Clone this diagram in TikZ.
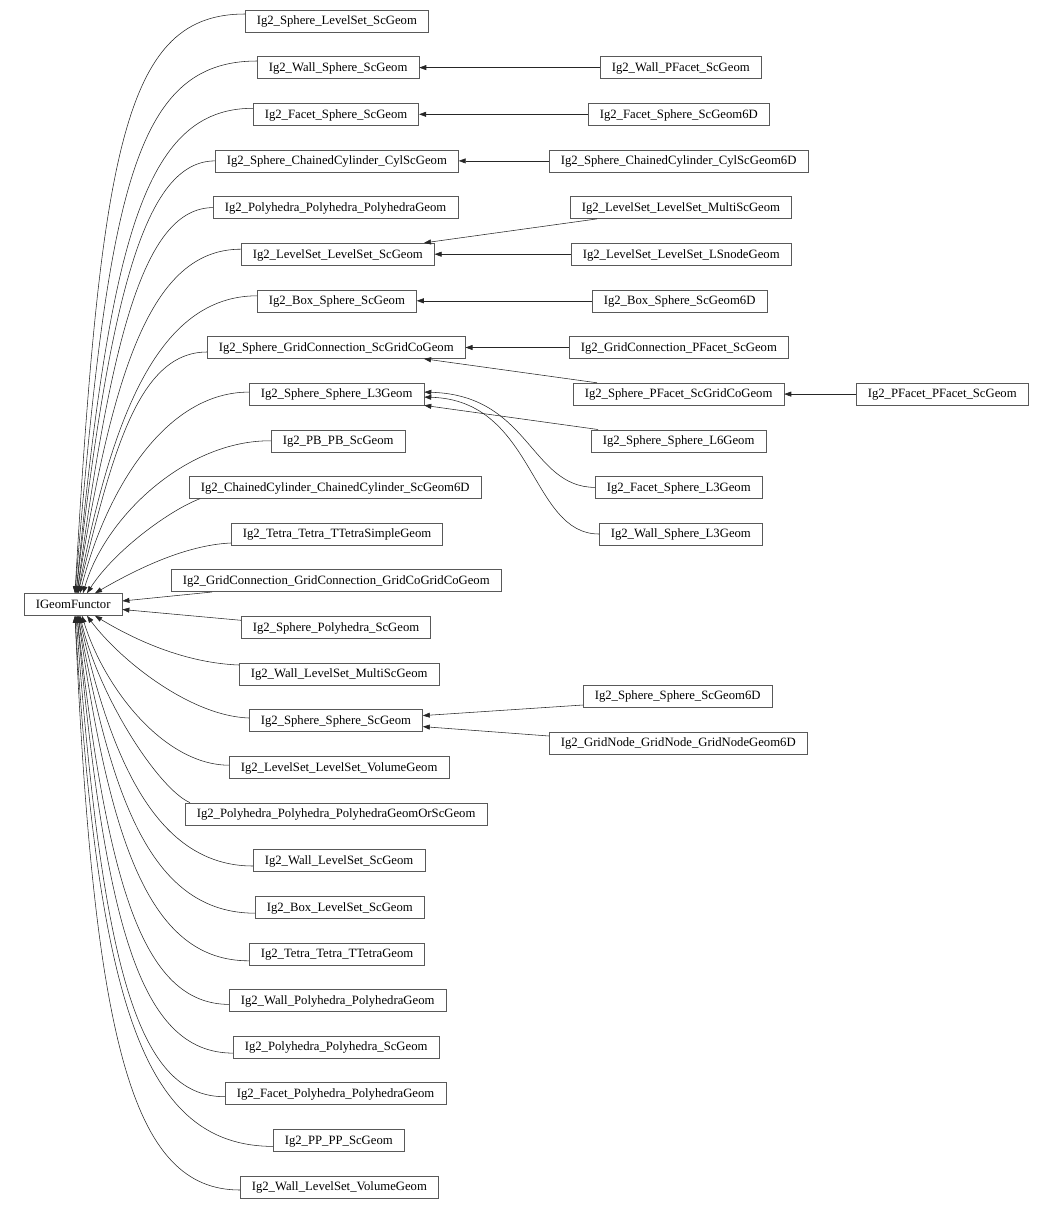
\documentclass[tikz,border=0pt]{standalone}
\usepackage{fontspec}
\setmainfont{Liberation Serif}
\usetikzlibrary{arrows.meta}
\begin{document}
\begin{tikzpicture}[x=1pt,y=-1pt,
  box/.style={draw=black!65, line width=0.6pt, fill=white, inner xsep=11.5pt, inner ysep=0pt,
    text height=9.6pt, text depth=2pt, minimum height=22pt, anchor=west,
    font=\fontsize{12.7}{14}\selectfont},
  edge/.style={draw=black!85, line width=0.55pt, -{Triangle[length=7pt,width=5pt]}}]
\useasboundingbox (0,0) rectangle (1052,1210);
% base
\node[box] (igf) at (24,604.5) {IGeomFunctor};
% left column
\node[box] (n1) at (245,21) {Ig2\_Sphere\_LevelSet\_ScGeom};
\node[box] (n2) at (257,67.6) {Ig2\_Wall\_Sphere\_ScGeom};
\node[box] (n3) at (253,114.3) {Ig2\_Facet\_Sphere\_ScGeom};
\node[box] (n4) at (215,160.9) {Ig2\_Sphere\_ChainedCylinder\_CylScGeom};
\node[box] (n5) at (213,207.6) {Ig2\_Polyhedra\_Polyhedra\_PolyhedraGeom};
\node[box] (n6) at (241,254.2) {Ig2\_LevelSet\_LevelSet\_ScGeom};
\node[box] (n7) at (257,300.8) {Ig2\_Box\_Sphere\_ScGeom};
\node[box] (n8) at (207,347.5) {Ig2\_Sphere\_GridConnection\_ScGridCoGeom};
\node[box] (n9) at (249,394.1) {Ig2\_Sphere\_Sphere\_L3Geom};
\node[box] (n10) at (271,440.8) {Ig2\_PB\_PB\_ScGeom};
\node[box] (n11) at (189,487.4) {Ig2\_ChainedCylinder\_ChainedCylinder\_ScGeom6D};
\node[box] (n12) at (231,534) {Ig2\_Tetra\_Tetra\_TTetraSimpleGeom};
\node[box] (n13) at (171,580.7) {Ig2\_GridConnection\_GridConnection\_GridCoGridCoGeom};
\node[box] (n14) at (241,627.3) {Ig2\_Sphere\_Polyhedra\_ScGeom};
\node[box] (n15) at (239,674) {Ig2\_Wall\_LevelSet\_MultiScGeom};
\node[box] (n16) at (249,720.6) {Ig2\_Sphere\_Sphere\_ScGeom};
\node[box] (n17) at (229,767.2) {Ig2\_LevelSet\_LevelSet\_VolumeGeom};
\node[box] (n18) at (185,813.9) {Ig2\_Polyhedra\_Polyhedra\_PolyhedraGeomOrScGeom};
\node[box] (n19) at (253,860.5) {Ig2\_Wall\_LevelSet\_ScGeom};
\node[box] (n20) at (255,907.2) {Ig2\_Box\_LevelSet\_ScGeom};
\node[box] (n21) at (249,953.8) {Ig2\_Tetra\_Tetra\_TTetraGeom};
\node[box] (n22) at (229,1000.4) {Ig2\_Wall\_Polyhedra\_PolyhedraGeom};
\node[box] (n23) at (233,1047.1) {Ig2\_Polyhedra\_Polyhedra\_ScGeom};
\node[box] (n24) at (225,1093.7) {Ig2\_Facet\_Polyhedra\_PolyhedraGeom};
\node[box] (n25) at (273,1140.4) {Ig2\_PP\_PP\_ScGeom};
\node[box] (n26) at (240,1187) {Ig2\_Wall\_LevelSet\_VolumeGeom};
% right column
\node[box] (r1) at (600,67.6) {Ig2\_Wall\_PFacet\_ScGeom};
\node[box] (r2) at (588,114.3) {Ig2\_Facet\_Sphere\_ScGeom6D};
\node[box] (r3) at (549,160.9) {Ig2\_Sphere\_ChainedCylinder\_CylScGeom6D};
\node[box] (r4) at (570,207.6) {Ig2\_LevelSet\_LevelSet\_MultiScGeom};
\node[box] (r5) at (571,254.2) {Ig2\_LevelSet\_LevelSet\_LSnodeGeom};
\node[box] (r6) at (592,300.8) {Ig2\_Box\_Sphere\_ScGeom6D};
\node[box] (r7) at (569,347.5) {Ig2\_GridConnection\_PFacet\_ScGeom};
\node[box] (r8) at (573,394.1) {Ig2\_Sphere\_PFacet\_ScGridCoGeom};
\node[box] (r9) at (856,394.1) {Ig2\_PFacet\_PFacet\_ScGeom};
\node[box] (r10) at (591,440.8) {Ig2\_Sphere\_Sphere\_L6Geom};
\node[box] (r11) at (595,487.4) {Ig2\_Facet\_Sphere\_L3Geom};
\node[box] (r12) at (599,534) {Ig2\_Wall\_Sphere\_L3Geom};
\node[box] (r13) at (583,696) {Ig2\_Sphere\_Sphere\_ScGeom6D};
\node[box] (r14) at (549,743) {Ig2\_GridNode\_GridNode\_GridNodeGeom6D};
% right-hand edges
\draw[edge] (r1.west) -- (n2.east);
\draw[edge] (r2.west) -- (n3.east);
\draw[edge] (r3.west) -- (n4.east);
\draw[edge] ([xshift=27pt]r4.south west) -- ([xshift=183pt]n6.north west);
\draw[edge] (r5.west) -- (n6.east);
\draw[edge] (r6.west) -- (n7.east);
\draw[edge] (r7.west) -- (n8.east);
\draw[edge] ([xshift=24pt]r8.north west) -- ([xshift=217pt]n8.south west);
\draw[edge] (r9.west) -- (r8.east);
\draw[edge] ([xshift=7pt]r10.north west) -- (n9.south east);
\draw[edge] (r11.west) .. controls (530,487) and (530,395) .. ([yshift=2pt]n9.east);
\draw[edge] (r12.west) .. controls (530,534) and (535,400) .. ([yshift=-3pt]n9.east);
\draw[edge] ([yshift=-9pt]r13.west) -- ([yshift=5pt]n16.east);
\draw[edge] ([yshift=7pt]r14.west) -- ([yshift=-6pt]n16.east);
% edges to IGeomFunctor (top)
\draw[edge] ([yshift=7pt]n1.west) .. controls (126,14) and (101,142) .. ([xshift=51pt]igf.north west);
\draw[edge] ([yshift=6.6pt]n2.west) .. controls (133,61) and (108,194) .. ([xshift=51pt]igf.north west);
\draw[edge] ([yshift=6pt]n3.west) .. controls (143,108) and (110,244) .. ([xshift=52pt]igf.north west);
\draw[edge] (n4.west) .. controls (145,161) and (110,294) .. ([xshift=52pt]igf.north west);
\draw[edge] (n5.west) .. controls (145,208) and (112,332) .. ([xshift=53pt]igf.north west);
\draw[edge] ([yshift=5pt]n6.west) .. controls (151,249) and (113,370) .. ([xshift=53pt]igf.north west);
\draw[edge] ([yshift=5pt]n7.west) .. controls (159,296) and (112,415) .. ([xshift=54pt]igf.north west);
\draw[edge] ([yshift=-4.5pt]n8.west) .. controls (136,352) and (111,461) .. ([xshift=54pt]igf.north west);
\draw[edge] ([yshift=2pt]n9.west) .. controls (164,392) and (105,493) .. ([xshift=56pt]igf.north west);
\draw[edge] (n10.west) .. controls (186,440) and (105,517) .. ([xshift=59pt]igf.north west);
\draw[edge] ([xshift=11pt]n11.south west) .. controls (170,510) and (115,550) .. ([xshift=63pt]igf.north west);
\draw[edge] ([yshift=-9pt]n12.west) .. controls (185,545) and (135,570) .. ([xshift=71pt]igf.north west);
\draw[edge] ([xshift=41pt]n13.south west) -- ([yshift=3.5pt]igf.east);
\draw[edge] ([yshift=7pt]n14.west) -- ([yshift=-5pt]igf.east);
% edges to IGeomFunctor (bottom)
\draw[edge] ([yshift=9pt]n15.west) .. controls (185,663) and (135,640) .. ([xshift=71pt]igf.south west);
\draw[edge] ([yshift=2.6pt]n16.west) .. controls (190,716) and (120,660) .. ([xshift=63pt]igf.south west);
\draw[edge] ([yshift=2pt]n17.west) .. controls (165,765) and (105,690) .. ([xshift=58pt]igf.south west);
\draw[edge] ([xshift=5pt]n18.north west) .. controls (160,790) and (100,700) .. ([xshift=56pt]igf.south west);
\draw[edge] ([yshift=-5.5pt]n19.west) .. controls (157,866) and (111,761) .. ([xshift=55pt]igf.south west);
\draw[edge] ([yshift=-6pt]n20.west) .. controls (152,913) and (112,801) .. ([xshift=54pt]igf.south west);
\draw[edge] ([yshift=-7pt]n21.west) .. controls (150,961) and (110,844) .. ([xshift=54pt]igf.south west);
\draw[edge] ([yshift=-4pt]n22.west) .. controls (141,1004) and (107,880) .. ([xshift=53pt]igf.south west);
\draw[edge] ([yshift=-6pt]n23.west) .. controls (139,1053) and (105,922) .. ([xshift=53pt]igf.south west);
\draw[edge] ([yshift=-3pt]n24.west) .. controls (136,1097) and (102,963) .. ([xshift=52pt]igf.south west);
\draw[edge] ([yshift=-6pt]n25.west) .. controls (144,1146) and (98,1006) .. ([xshift=51pt]igf.south west);
\draw[edge] ([yshift=-3pt]n26.west) .. controls (133,1190) and (94,1047) .. ([xshift=51pt]igf.south west);
\end{tikzpicture}
\end{document}
